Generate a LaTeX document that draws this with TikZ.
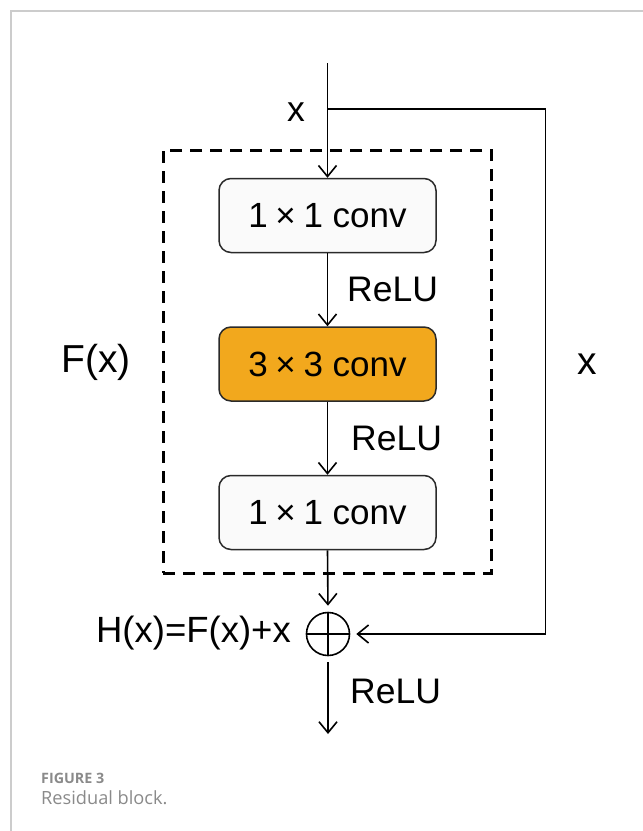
\documentclass[tikz,border=0pt]{standalone}
\usepackage{fontspec}
\setmainfont{Liberation Sans}
\newfontfamily\capfont{Open Sans}
\usetikzlibrary{arrows.meta}
\definecolor{boxfill}{HTML}{FAFAFA}
\definecolor{orangefill}{HTML}{F2A81D}
\definecolor{edgegray}{HTML}{2A2A2A}
\definecolor{bordergray}{HTML}{CCCCCC}
\definecolor{capgray}{HTML}{8A8A8A}
\newcommand{\tms}{\hspace{0.22em}×\hspace{0.22em}}
\tikzset{
  x=1pt, y=-1pt,
  convbox/.style={draw=edgegray, line width=1.5pt, rounded corners=12pt,
    minimum width=217pt, minimum height=74pt, fill=boxfill, inner sep=0pt,
    font=\fontsize{35}{40}\selectfont},
  conn/.style={line width=1.6pt, draw=black},
  arr/.style={conn, -{Straight Barb[length=11pt,width=18pt,line width=1.6pt]}},
  lbl/.style={inner sep=0pt, font=\fontsize{35.5}{40}\selectfont},
  biglbl/.style={inner sep=0pt, font=\fontsize{39}{44}\selectfont},
}
\begin{document}
\begin{tikzpicture}
\useasboundingbox (0,0) rectangle (643,831);
% page border
\draw[bordergray, line width=1.5pt] (643,11) -- (11,11) -- (11,831);
% dashed F(x) frame
\node[draw, dashed, dash pattern=on 12pt off 8pt, line width=3pt,
      minimum width=328pt, minimum height=423pt, inner sep=0pt] (frame) at (327,361.5) {};
% blocks
\node[convbox] (c1) at (327.5,215.5) {1\tms 1 conv};
\node[convbox, fill=orangefill] (c2) at (327.5,364) {3\tms 3 conv};
\node[convbox] (c3) at (327.5,512.5) {1\tms 1 conv};
\node[draw=black, line width=1.6pt, circle, minimum size=43pt, inner sep=0pt] (sum) at (328,634) {};
\draw[conn] (sum.north) -- (sum.south) (sum.west) -- (sum.east);
% coordinates
\coordinate (top) at (327.5,63);
\coordinate (split) at (327.5,109);
\coordinate (tr) at (545.5,109);
\coordinate (brc) at (545.5,634);
\coordinate (out) at (328,734);
% connectors
\draw[arr] (top) -- (c1.north);
\draw[conn] (split) -- (tr) -- (brc);
\draw[arr, shorten >=6pt] (brc) -- (sum.east);
\draw[arr] (c1.south) -- (c2.north);
\draw[arr] (c2.south) -- (c3.north);
\draw[arr, shorten >=6pt] (c3.south) -- (sum.north);
\draw[arr, shorten <=6pt] (sum.south) -- (out);
% labels
\node[lbl] (xin) at (296,112) {x};
\node[lbl, anchor=west] (r1) at (347,289) {ReLU};
\node[lbl, anchor=west] (r2) at (351,438) {ReLU};
\node[lbl, anchor=west] (r3) at (350,691) {ReLU};
\node[biglbl] (fx) at (96,362) {F(x)};
\node[biglbl] (xs) at (587,364) {x};
\node[lbl, anchor=east, font=\fontsize{36.5}{40}\selectfont] (hx) at (291,633) {H(x)=F(x)+x};
% caption
\node[anchor=base west, inner sep=0pt, text=capgray, font=\capfont\bfseries\fontsize{14.3}{17}\selectfont] (cap1) at (41,783) {FIGURE 3};
\node[anchor=base west, inner sep=0pt, text=capgray, font=\capfont\fontsize{18.2}{21}\selectfont] (cap2) at (41,804) {Residual block.};
\end{tikzpicture}
\end{document}
